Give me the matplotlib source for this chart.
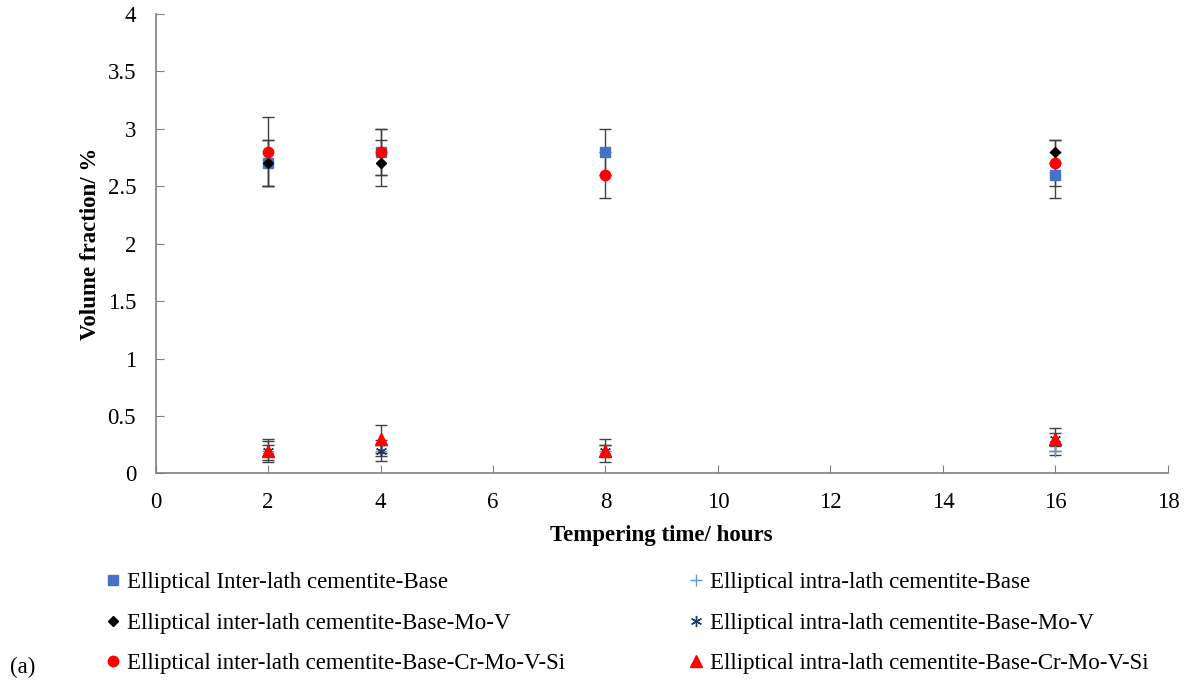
import matplotlib
matplotlib.use("Agg")
import matplotlib.pyplot as plt

plt.rcParams["font.family"] = ["Liberation Serif", "DejaVu Serif"]

# tempering time (hours)
hours = [2, 4, 8, 16]
hours_mov = [2, 4, 16]

# inter-lath cementite volume fraction (%)
inter_base = [2.7, 2.8, 2.8, 2.6]
inter_base_err = [0.2, 0.2, 0.2, 0.2]
inter_mov = [2.7, 2.7, 2.8]
inter_mov_err = [0.2, 0.2, 0.1]
inter_crmovsi = [2.8, 2.8, 2.6, 2.7]
inter_crmovsi_err = [0.3, 0.2, 0.2, 0.2]

# intra-lath cementite volume fraction (%)
intra_base = [0.2, 0.2, 0.2, 0.2]
intra_base_err = [0.05, 0.05, 0.05, 0.04]
intra_mov = [0.2, 0.2, 0.2, 0.3]
intra_mov_err = [0.08, 0.09, 0.05, 0.05]
intra_crmovsi = [0.2, 0.3, 0.2, 0.3]
intra_crmovsi_err = [0.1, 0.12, 0.1, 0.1]

labels = ["Elliptical Inter-lath cementite-Base",
          "Elliptical inter-lath cementite-Base-Mo-V",
          "Elliptical inter-lath cementite-Base-Cr-Mo-V-Si",
          "Elliptical intra-lath cementite-Base",
          "Elliptical intra-lath cementite-Base-Mo-V",
          "Elliptical intra-lath cementite-Base-Cr-Mo-V-Si"]

FS = 16.5

fig = plt.figure(figsize=(11.89, 6.81), dpi=100)
ax = fig.add_axes([0.1308, 0.3047, 0.8515, 0.6747])

ebar = dict(ecolor="#404040", elinewidth=1, capsize=4, capthick=1, linestyle="none")

series = [
    (hours, inter_base, inter_base_err, dict(marker="s", color="#4472C4", markersize=7)),
    (hours_mov, inter_mov, inter_mov_err, dict(marker="D", color="black", markersize=5.5)),
    (hours, inter_crmovsi, inter_crmovsi_err, dict(marker="o", color="#FF0000", markersize=7.5)),
    (hours, intra_base, intra_base_err, dict(marker="+", color="#5B9BD5", markersize=8, markeredgewidth=1)),
    (hours, intra_mov, intra_mov_err, dict(marker=(6, 2, 0), color="#1F3864", markersize=8, markeredgewidth=1)),
    (hours, intra_crmovsi, intra_crmovsi_err, dict(marker="^", color="#FF0000", markersize=8)),
]

handles = []
for x, y, e, st in series:
    ax.errorbar(x, y, yerr=e, **ebar, zorder=2)
    h, = ax.plot(x, y, linestyle="none", zorder=3, **st)
    handles.append(h)

ax.set_xlim(0, 18)
ax.set_ylim(0, 4)
ax.set_xticks(range(0, 19, 2))
ax.set_yticks([0, 0.5, 1, 1.5, 2, 2.5, 3, 3.5, 4])
ax.set_yticklabels(["0", "0.5", "1", "1.5", "2", "2.5", "3", "3.5", "4"])
ax.spines["top"].set_visible(False)
ax.spines["right"].set_visible(False)
for s in ("left", "bottom"):
    ax.spines[s].set_color("#7f7f7f")
    ax.spines[s].set_linewidth(1.2)
ax.tick_params(axis="x", direction="in", length=6, color="#7f7f7f", labelsize=FS, pad=13)
ax.tick_params(axis="y", direction="in", length=6, color="#7f7f7f", labelsize=FS, pad=14)

ax.set_xlabel("Tempering time/ hours", fontsize=FS, fontweight="bold", labelpad=9)
ax.set_ylabel("Volume fraction/ %", fontsize=FS, fontweight="bold", labelpad=5)

leg_kw = dict(frameon=False, fontsize=FS, handlelength=0.6, handletextpad=0.3,
              labelspacing=0.85, borderaxespad=0, borderpad=0, loc="upper left")
fig.legend(handles[:3], labels[:3], bbox_to_anchor=(0.0892, 0.160), **leg_kw)
fig.legend(handles[3:], labels[3:], bbox_to_anchor=(0.580, 0.160), **leg_kw)

fig.text(0.008, 0.012, "(a)", fontsize=FS)

fig.savefig("out.png", dpi=100)
